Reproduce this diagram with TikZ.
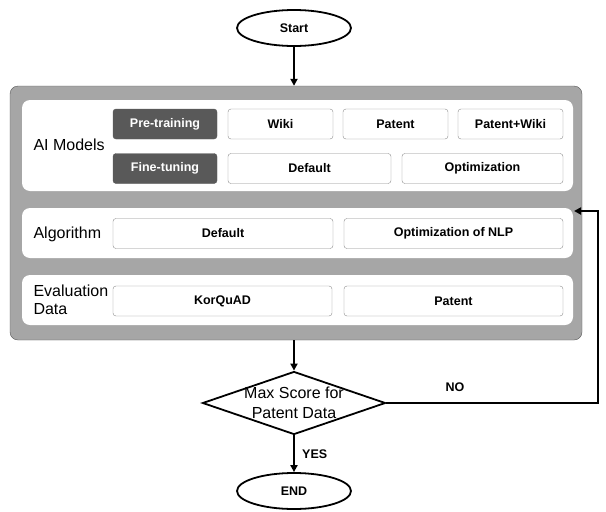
\documentclass[tikz,border=0pt]{standalone}
\usepackage{fontspec}
\setmainfont{Liberation Sans}
\usetikzlibrary{shapes.geometric,arrows.meta}

\begin{document}
\begin{tikzpicture}[
    x=1pt, y=-1pt,
    terminal/.style={ellipse, draw, line width=1.8pt, minimum width=114pt, minimum height=36pt, inner sep=0pt, font=\fontsize{12.5}{14}\selectfont\bfseries},
    frame/.style={draw=gray!70!black, fill=black!35, rounded corners=8pt, minimum width=572pt, minimum height=254pt, inner sep=0pt},
    panel/.style={fill=white, rounded corners=8pt, minimum width=551pt, inner sep=0pt},
    item/.style={draw=black!45, fill=white, rounded corners=3pt, minimum height=30pt, inner sep=0pt, font=\fontsize{12.5}{14}\selectfont\bfseries},
    stage/.style={item, draw=black!65, fill=black!65, text=white},
    title/.style={anchor=west, align=left, font=\fontsize{16}{18}\selectfont},
    decision/.style={diamond, draw, line width=1.8pt, minimum width=183pt, minimum height=63pt, inner sep=0pt},
    arrow/.style={draw, line width=1.8pt, -{Triangle[length=7pt, width=7pt]}},
    answer/.style={font=\fontsize{12.5}{14}\selectfont\bfseries}
]
\useasboundingbox (0,0) rectangle (606,512);

% Start and the big box
\node[terminal] (start) at (294,28) {Start};
\node[frame] (frame) at (296,213) {};

% Panels inside the box
\node[panel, minimum height=91pt] (models) at (297.5,145.5) {};
\node[panel, minimum height=50pt] (algo) at (297.5,233) {};
\node[panel, minimum height=50pt] (data) at (297.5,300) {};

% AI models
\node[title] (modelsname) at (30,145) {AI Models};
\node[stage, minimum width=104pt] (pre) at (165,124) {Pre-training};
\node[item, minimum width=105pt] (wiki) at (280.5,124) {Wiki};
\node[item, minimum width=105pt] (patent) at (395.5,124) {Patent};
\node[item, minimum width=105pt] (both) at (510.5,124) {Patent+Wiki};
\node[stage, minimum width=104pt] (fine) at (165,168.5) {Fine-tuning};
\node[item, minimum width=163pt] (default) at (309.5,168.5) {Default};
\node[item, minimum width=161pt] (optim) at (482.5,168.5) {Optimization};

% Algorithm
\node[title] (aloname) at (30,234) {Algorithm};
\node[item, minimum width=220pt] (algdefault) at (223,233.5) {Default};
\node[item, minimum width=219pt] (nlp) at (453.5,233.5) {Optimization of NLP};

% Evaluation data
\node[title] (dataname) at (30,300) {Evaluation\\Data};
\node[item, minimum width=219pt] (korquad) at (222.5,301) {KorQuAD};
\node[item, minimum width=219pt] (patentdata) at (453.5,301) {Patent};

% Decision and end
\node[decision, label={[align=center, font=\fontsize{16}{20}\selectfont]center:Max Score for\\Patent Data}] (check) at (294,403) {};
\node[terminal] (end) at (294,491) {END};

% Connectors
\draw[arrow] (start) -- (start |- frame.north);
\draw[arrow] (check |- frame.south) -- (check);
\draw[arrow] (check) -- (end) node[answer, midway, right=4pt] {YES};
\coordinate (turn) at (598,211);
\coordinate (back) at (574,211);
\draw[arrow] (check.east) -| (turn) -- (back);
\node[answer] (no) at (455,387) {NO};

\end{tikzpicture}
\end{document}
